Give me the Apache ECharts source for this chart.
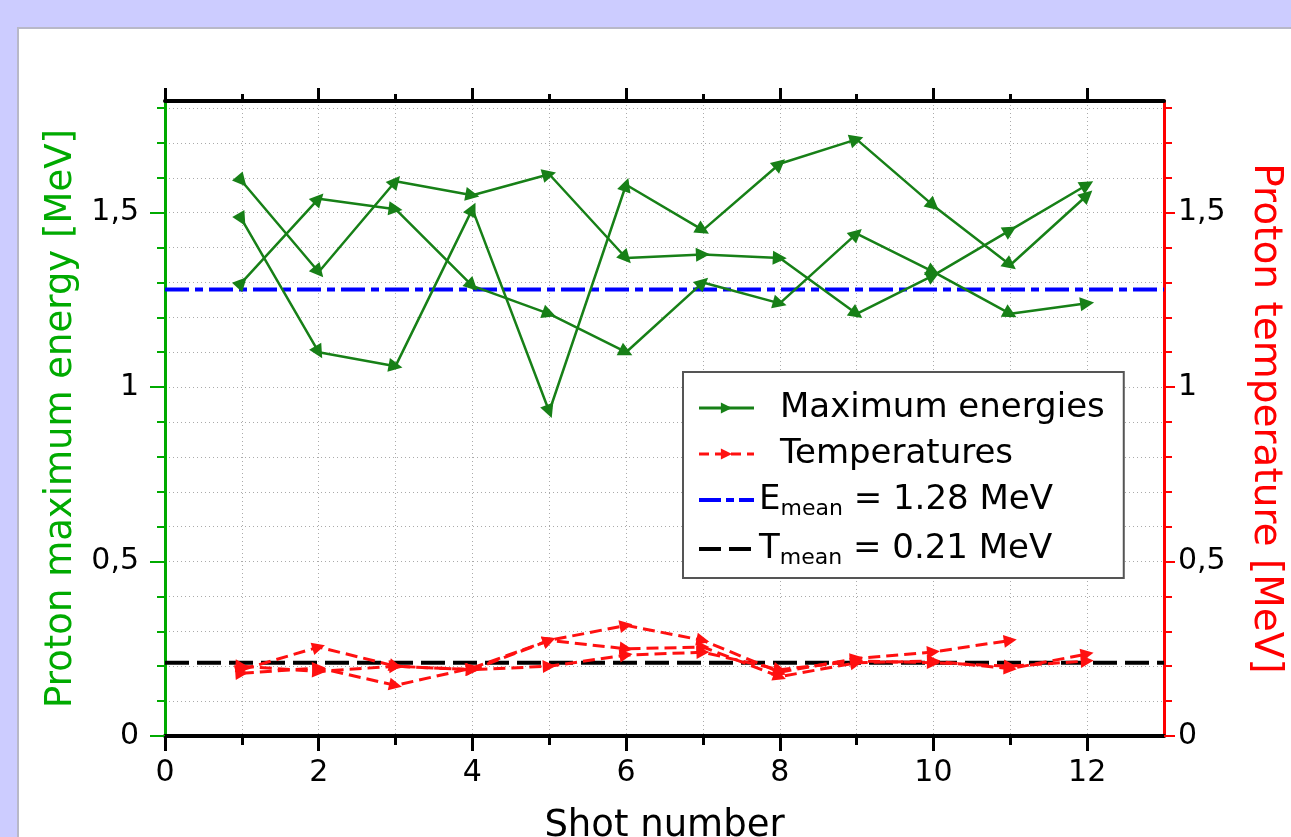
<!DOCTYPE html>
<html>
<head>
<meta charset="utf-8">
<script src="https://cdn.jsdelivr.net/npm/echarts@6/dist/echarts.min.js"></script>
<style>
  html, body { margin: 0; padding: 0; background: #ccccff; overflow: hidden; }
  #panel { position: absolute; left: 17px; top: 27px; width: 1300px; height: 850px;
           background: #fff; border-top: 2px solid #b8b8c8; border-left: 2px solid #b8b8c8; }
  #chart { position: absolute; left: 0; top: 0; width: 1291px; height: 837px; }
</style>
</head>
<body>
<div id="panel"></div>
<div id="chart"></div>
<script>
  // shot numbers
  const shots = [1, 2, 3, 4, 5, 6, 7, 8, 9, 10, 11, 12];

  // maximum proton energies [MeV], three runs
  const energyA = [1.59, 1.33, 1.59, 1.55, 1.61, 1.37, 1.38, 1.37, 1.21, 1.32, 1.45, 1.58];
  const energyB = [1.48, 1.10, 1.06, 1.51, 0.93, 1.58, 1.45, 1.64, 1.71, 1.52, 1.35, 1.55];
  const energyC = [1.30, 1.54, 1.51, 1.29, 1.21, 1.10, 1.30, 1.24, 1.44, 1.33, 1.21, 1.24];

  // proton temperatures [MeV], three runs (null = no shot)
  const tempA = [0.19, 0.255, 0.20, 0.19, 0.274, 0.317, 0.274, 0.183, 0.222, 0.241, 0.274, null];
  const tempB = [0.18, 0.195, 0.145, 0.195, 0.274, 0.25, 0.255, 0.17, 0.21, 0.215, 0.193, 0.235];
  const tempC = [0.20, 0.185, 0.20, 0.19, 0.20, 0.232, 0.24, 0.19, 0.215, 0.21, 0.20, 0.215];

  // mean values
  const eMean = 1.28;
  const tMean = 0.21;

  // tick labels
  const xLabels = [0, 2, 4, 6, 8, 10, 12];
  const yLabels = [0, 0.5, 1, 1.5];

  const xTicks = { min: 0, max: 13, interval: 2 };
  const yTicks = { min: 0, max: 1.82, interval: 0.5, minor: 5 };

  const GRID = { left: 165, right: 127, top: 101, bottom: 101 };
  const W = 1291, H = 837;
  const FONT = 'DejaVu Sans';
  const GREEN = '#178017';
  const RED = '#ff1010';

  // px per data unit, used only to orient the triangle markers along the line
  const SX = (W - GRID.left - GRID.right) / (xTicks.max - xTicks.min);
  const SY = (H - GRID.top - GRID.bottom) / (yTicks.max - yTicks.min);

  const withArrows = ys => {
    const pts = shots.map((x, i) => [x, ys[i]]).filter(p => p[1] != null);
    return pts.map((p, i) => {
      const a = i > 0 ? pts[i - 1] : p;
      const b = i > 0 ? p : pts[1];
      const ang = Math.atan2((b[1] - a[1]) * SY, (b[0] - a[0]) * SX) * 180 / Math.PI;
      return { value: p, symbolRotate: ang - 90 };
    });
  };

  const energySeries = ys => ({
    name: 'Maximum energies',
    type: 'line',
    yAxisIndex: 0,
    symbol: 'triangle',
    symbolSize: 14,
    itemStyle: { color: GREEN },
    lineStyle: { color: GREEN, width: 2.5 },
    z: 3,
    data: withArrows(ys)
  });

  const tempSeries = ys => ({
    name: 'Temperatures',
    type: 'line',
    yAxisIndex: 1,
    symbol: 'triangle',
    symbolSize: 13,
    itemStyle: { color: RED },
    lineStyle: { color: RED, width: 3, type: [12, 6] },
    z: 3,
    data: withArrows(ys)
  });

  const commaLabel = v => String(Math.round(v * 2) / 2).replace('.', ',');

  const gridLine = { color: '#aaa', type: [1, 3], width: 1 };

  const yAxisBase = (pos, color, name, rotate, nameSize, tickLen, margin) => ({
    type: 'value',
    position: pos,
    min: yTicks.min,
    max: yTicks.max,
    interval: yTicks.interval,
    name: name,
    nameLocation: 'middle',
    nameGap: 82,
    nameRotate: rotate,
    nameTextStyle: { color: color, fontFamily: FONT, fontSize: nameSize },
    axisLine: { show: true, onZero: false, lineStyle: { color: color, width: 3 } },
    axisTick: { show: true, inside: false, length: tickLen, customValues: yLabels, lineStyle: { color: color, width: 2 } },
    minorTick: { show: true, splitNumber: yTicks.minor, length: 8, lineStyle: { color: color, width: 2 } },
    axisLabel: {
      margin: margin, color: '#000', fontFamily: FONT, fontSize: 30,
      customValues: yLabels, formatter: commaLabel
    },
    splitLine: { show: false }
  });

  const chart = echarts.init(document.getElementById('chart'));

  const option = {
    animation: false,
    grid: {
      left: GRID.left, right: GRID.right, top: GRID.top, bottom: GRID.bottom,
      containLabel: false, outerBoundsMode: 'none'
    },
    legend: {
      left: 683,
      top: 372,
      orient: 'vertical',
      backgroundColor: '#fff',
      borderColor: '#555',
      borderWidth: 2,
      borderRadius: 0,
      padding: [19, 19, 9, 14],
      itemWidth: 55,
      itemHeight: 14,
      itemGap: 12,
      textStyle: {
        color: '#000',
        fontFamily: FONT,
        fontSize: 34,
        rich: {
          p: { fontFamily: FONT, fontSize: 34, lineHeight: 40, padding: [0, 0, 0, 21] },
          n: { fontFamily: FONT, fontSize: 34, lineHeight: 40 },
          s: { fontFamily: FONT, fontSize: 22, lineHeight: 22, verticalAlign: 'bottom' }
        }
      },
      formatter: name => {
        if (name === 'Emean') return '{n|E}{s|mean}{n| = ' + eMean.toFixed(2) + ' MeV}';
        if (name === 'Tmean') return '{n|T}{s|mean}{n| = ' + tMean.toFixed(2) + ' MeV}';
        return '{p|' + name + '}';
      },
      data: [
        { name: 'Maximum energies', symbolRotate: -90, lineStyle: { width: 3 } },
        { name: 'Temperatures', symbolRotate: -90, lineStyle: { width: 3, type: [10, 6] } },
        { name: 'Emean', itemStyle: { opacity: 0 }, lineStyle: { width: 4, type: [22, 5, 8, 5] } },
        { name: 'Tmean', itemStyle: { opacity: 0 }, lineStyle: { width: 4, type: [22, 8] } }
      ]
    },
    xAxis: [
      {
        type: 'value',
        position: 'bottom',
        min: xTicks.min,
        max: xTicks.max,
        interval: xTicks.interval,
        name: 'Shot number',
        nameLocation: 'middle',
        nameGap: 72,
        nameTextStyle: { color: '#000', fontFamily: FONT, fontSize: 37, verticalAlign: 'top' },
        axisLine: { onZero: false, lineStyle: { color: '#000', width: 4 } },
        axisTick: { inside: false, length: 15, customValues: xLabels, lineStyle: { color: '#000', width: 3 } },
        minorTick: { show: true, splitNumber: 2, length: 9, lineStyle: { color: '#000', width: 3 } },
        axisLabel: { margin: 22, color: '#000', fontFamily: FONT, fontSize: 30, customValues: xLabels },
        splitLine: { show: true, lineStyle: gridLine },
        minorSplitLine: { show: true, lineStyle: gridLine }
      },
      {
        type: 'value',
        position: 'top',
        min: xTicks.min,
        max: xTicks.max,
        interval: xTicks.interval,
        axisLine: { show: true, onZero: false, lineStyle: { color: '#000', width: 4 } },
        axisTick: { show: true, inside: false, length: 13, customValues: xLabels, lineStyle: { color: '#000', width: 3 } },
        minorTick: { show: true, splitNumber: 2, length: 7, lineStyle: { color: '#000', width: 3 } },
        axisLabel: { show: false },
        splitLine: { show: false }
      }
    ],
    yAxis: [
      Object.assign(yAxisBase('left', '#00aa00', 'Proton maximum energy [MeV]', 90, 37, 15, 26), {
        splitLine: { show: true, lineStyle: gridLine },
        minorSplitLine: { show: true, lineStyle: gridLine }
      }),
      yAxisBase('right', '#ff0000', 'Proton temperature [MeV]', -90, 39, 11, 14)
    ],
    series: [
      energySeries(energyA),
      energySeries(energyB),
      energySeries(energyC),
      tempSeries(tempA),
      tempSeries(tempB),
      tempSeries(tempC),
      {
        name: 'Emean',
        type: 'line',
        yAxisIndex: 0,
        symbol: 'none',
        lineStyle: { color: '#0000ff', width: 4, type: [24, 6, 8, 6] },
        itemStyle: { color: '#0000ff' },
        z: 2,
        data: [[xTicks.min, eMean], [xTicks.max, eMean]]
      },
      {
        name: 'Tmean',
        type: 'line',
        yAxisIndex: 1,
        symbol: 'none',
        lineStyle: { color: '#000', width: 4, type: [24, 8] },
        itemStyle: { color: '#000' },
        z: 2,
        data: [[xTicks.min, tMean], [xTicks.max, tMean]]
      }
    ]
  };

  chart.setOption(option);
</script>
</body>
</html>
